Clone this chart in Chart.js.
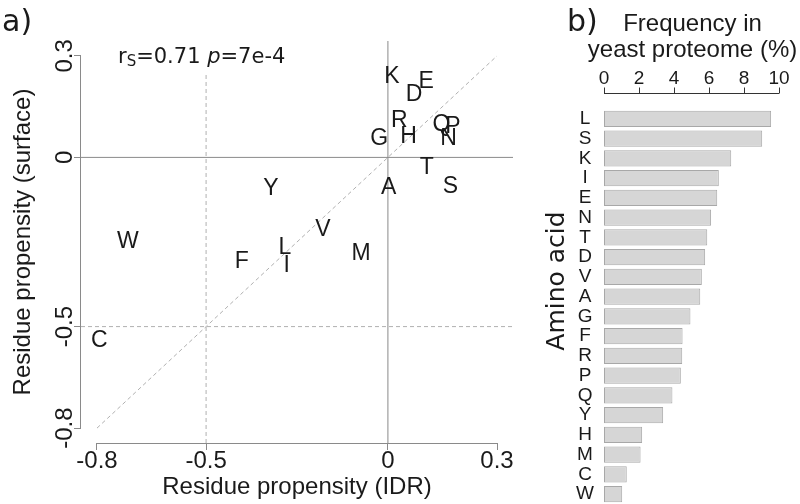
<!DOCTYPE html>
<html>
<head>
<meta charset="utf-8">
<script src="https://cdn.jsdelivr.net/npm/chart.js@4.4.1/dist/chart.umd.min.js"></script>
<style>
  html, body { margin: 0; padding: 0; background: #fff; }
  #wrap { position: relative; width: 800px; height: 504px; }
  #scatterBox { position: absolute; left: 0; top: 0; width: 540px; height: 504px; }
  #barBox { position: absolute; left: 540px; top: 0; width: 260px; height: 504px; }
</style>
</head>
<body>
<div id="wrap">
  <div id="scatterBox"><canvas id="propChart" width="540" height="504"></canvas></div>
  <div id="barBox"><canvas id="freqChart" width="260" height="504"></canvas></div>
</div>
<script>
// panel a) residue propensity, IDR vs surface
const residues = ["K", "E", "D", "R", "H", "G", "Q", "P", "N", "T", "A", "S", "Y", "W", "V", "L", "I", "F", "M", "C"];
const idrProp = [0.011, 0.105, 0.072, 0.031, 0.057, -0.024, 0.147, 0.179, 0.167, 0.107, 0.002, 0.172, -0.322, -0.715, -0.179, -0.283, -0.278, -0.402, -0.074, -0.794];
const surfProp = [0.238, 0.223, 0.186, 0.108, 0.060, 0.055, 0.098, 0.090, 0.055, -0.031, -0.090, -0.086, -0.093, -0.249, -0.214, -0.268, -0.320, -0.307, -0.285, -0.542];
const propTicks = [-0.8, -0.5, 0, 0.3];

// panel b) amino acid frequency in yeast proteome (%)
const aminoAcids = ["L", "S", "K", "I", "E", "N", "T", "D", "V", "A", "G", "F", "R", "P", "Q", "Y", "H", "M", "C", "W"];
const yeastFreq = [9.55, 9.04, 7.27, 6.56, 6.47, 6.12, 5.90, 5.78, 5.59, 5.50, 4.94, 4.49, 4.47, 4.39, 3.91, 3.38, 2.18, 2.09, 1.30, 1.04];
const freqTicks = [0, 2, 4, 6, 8, 10];
const freqTitle = ["Frequency in", "yeast proteome (%)"];

const sansFont = "'Liberation Sans', Arial, sans-serif";
const verdFont = "'DejaVu Sans', Verdana, sans-serif";
const textCol = "#1a1a1a";
const lineGrey = "#8a8a8a";
const dashGrey = "#b0b0b0";

// R style range: 4% extension on each side
const plotMin = -0.844;
const plotMax = 0.344;

Chart.defaults.font.family = sansFont;
Chart.defaults.color = textCol;

const refLine = (pts, color, dash) => ({
    data: pts,
    showLine: true,
    borderColor: color,
    borderWidth: 1,
    borderDash: dash,
    pointRadius: 0,
});

const letterLabels = {
    id: "letterLabels",
    afterDatasetsDraw(chart) {
        const ctx = chart.ctx;
        const meta = chart.getDatasetMeta(0);
        ctx.save();
        ctx.font = "23px " + sansFont;
        ctx.fillStyle = textCol;
        ctx.textAlign = "center";
        ctx.textBaseline = "middle";
        meta.data.forEach((pt, i) => ctx.fillText(residues[i], pt.x, pt.y));
        ctx.restore();
    }
};

const scatterExtras = {
    id: "scatterExtras",
    afterDraw(chart) {
        const { ctx, chartArea, scales } = chart;
        const x = scales.x, y = scales.y;
        ctx.save();
        // axis lines only from first to last tick
        ctx.strokeStyle = lineGrey;
        ctx.lineWidth = 1;
        ctx.beginPath();
        ctx.moveTo(x.getPixelForValue(propTicks[0]), chartArea.bottom + 0.5);
        ctx.lineTo(x.getPixelForValue(propTicks[propTicks.length - 1]), chartArea.bottom + 0.5);
        ctx.moveTo(chartArea.left - 0.5, y.getPixelForValue(propTicks[0]));
        ctx.lineTo(chartArea.left - 0.5, y.getPixelForValue(propTicks[propTicks.length - 1]));
        ctx.stroke();

        // panel tag
        ctx.fillStyle = textCol;
        ctx.textBaseline = "alphabetic";
        ctx.font = "30px " + verdFont;
        ctx.fillText("a)", 2, 31);

        // correlation note
        let cx = chartArea.left + 37;
        const base = 63;
        ctx.font = "21px " + verdFont;
        ctx.fillText("r", cx, base);
        cx += ctx.measureText("r").width;
        ctx.font = "15px " + verdFont;
        ctx.fillText("S", cx, base + 3);
        cx += ctx.measureText("S").width;
        ctx.font = "21px " + verdFont;
        ctx.fillText("=0.71 ", cx, base);
        cx += ctx.measureText("=0.71 ").width;
        ctx.font = "italic 21px " + verdFont;
        ctx.fillText("p", cx, base);
        cx += ctx.measureText("p").width;
        ctx.font = "21px " + verdFont;
        ctx.fillText("=7e-4", cx, base);
        ctx.restore();
    }
};

const propChart = new Chart(document.getElementById("propChart"), {
    type: "scatter",
    data: {
        datasets: [
            {
                data: residues.map((r, i) => ({ x: idrProp[i], y: surfProp[i] })),
                pointRadius: 0,
            },
            refLine([{ x: plotMin, y: 0 }, { x: plotMax, y: 0 }], lineGrey, []),
            refLine([{ x: 0, y: plotMin }, { x: 0, y: plotMax }], lineGrey, []),
            refLine([{ x: plotMin, y: -0.5 }, { x: plotMax, y: -0.5 }], dashGrey, [4, 3]),
            refLine([{ x: -0.5, y: plotMin }, { x: -0.5, y: 0.25 }], dashGrey, [4, 3]),
            refLine([{ x: -0.8, y: -0.8 }, { x: 0.3, y: 0.3 }], dashGrey, [4, 3]),
        ],
    },
    options: {
        responsive: false,
        animation: false,
        events: [],
        layout: { padding: { top: 41, right: 27, left: 0, bottom: 0 } },
        plugins: { legend: { display: false }, tooltip: { enabled: false } },
        scales: {
            x: {
                type: "linear",
                min: plotMin,
                max: plotMax,
                afterBuildTicks: (s) => { s.ticks = propTicks.map((v) => ({ value: v })); },
                afterFit: (s) => { s.height = 61; },
                grid: { drawOnChartArea: false, drawTicks: true, tickLength: 7, color: lineGrey },
                border: { display: false },
                ticks: {
                    font: { size: 24 },
                    color: textCol,
                    padding: -3,
                    maxRotation: 0,
                    autoSkip: false,
                    callback: (v) => String(v),
                },
                title: {
                    display: true,
                    text: "Residue propensity (IDR)",
                    font: { size: 24 },
                    color: textCol,
                    padding: { top: 0, bottom: 2 },
                },
            },
            y: {
                type: "linear",
                min: plotMin,
                max: plotMax,
                afterBuildTicks: (s) => { s.ticks = propTicks.map((v) => ({ value: v })); },
                afterFit: (s) => { s.width = 81; },
                grid: { drawOnChartArea: false, drawTicks: true, tickLength: 7, color: lineGrey },
                border: { display: false },
                ticks: {
                    font: { size: 24 },
                    color: textCol,
                    minRotation: 90,
                    maxRotation: 90,
                    crossAlign: "center",
                    padding: -12,
                    autoSkip: false,
                    callback: (v) => String(v),
                },
                title: {
                    display: true,
                    text: "Residue propensity (surface)",
                    font: { size: 24 },
                    color: textCol,
                    padding: { top: 9, bottom: 0 },
                },
            },
        },
    },
    plugins: [letterLabels, scatterExtras],
});

const barExtras = {
    id: "barExtras",
    afterDraw(chart) {
        const { ctx, chartArea, scales } = chart;
        const x = scales.x;
        const axisY = chartArea.top - 16 + 0.5;
        ctx.save();
        ctx.strokeStyle = "#333";
        ctx.lineWidth = 1;
        ctx.beginPath();
        ctx.moveTo(x.getPixelForValue(freqTicks[0]), axisY);
        ctx.lineTo(x.getPixelForValue(freqTicks[freqTicks.length - 1]), axisY);
        freqTicks.forEach((v) => {
            const px = Math.round(x.getPixelForValue(v)) + 0.5;
            ctx.moveTo(px, axisY);
            ctx.lineTo(px, axisY - 6);
        });
        ctx.stroke();

        ctx.fillStyle = textCol;
        ctx.textBaseline = "alphabetic";

        // axis title, wider than the axis itself
        ctx.font = "24px " + sansFont;
        ctx.textAlign = "center";
        const midX = (chartArea.left + chartArea.right) / 2 + 1;
        ctx.fillText(freqTitle[0], midX, 31);
        ctx.fillText(freqTitle[1], midX, 57);

        ctx.textAlign = "left";
        ctx.font = "30px " + verdFont;
        ctx.fillText("b)", 27, 31);

        ctx.translate(17, 281);
        ctx.rotate(-Math.PI / 2);
        ctx.font = "25px " + verdFont;
        ctx.textAlign = "center";
        ctx.textBaseline = "middle";
        ctx.fillText("Amino acid", 0, 0);
        ctx.restore();
    }
};

const freqChart = new Chart(document.getElementById("freqChart"), {
    type: "bar",
    data: {
        labels: aminoAcids,
        datasets: [
            {
                data: yeastFreq,
                backgroundColor: "#d6d6d6",
                borderColor: "#a8a8a8",
                borderWidth: 1,
                borderSkipped: false,
                barPercentage: 0.83,
                categoryPercentage: 1,
            },
        ],
    },
    options: {
        indexAxis: "y",
        responsive: false,
        animation: false,
        events: [],
        layout: { padding: { top: 0, right: 21, left: 0, bottom: 0 } },
        plugins: { legend: { display: false }, tooltip: { enabled: false } },
        scales: {
            x: {
                position: "top",
                min: 0,
                max: 10,
                afterBuildTicks: (s) => { s.ticks = freqTicks.map((v) => ({ value: v })); },
                afterFit: (s) => {
                    s.height = 109;
                    s.paddingLeft = 0;
                    s.paddingRight = 0;
                },
                grid: { display: false, drawTicks: false },
                border: { display: false },
                ticks: { font: { size: 19 }, color: textCol, padding: 19, maxRotation: 0, autoSkip: false },
            },
            y: {
                afterFit: (s) => {
                    s.width = 64;
                    s.paddingTop = 0;
                    s.paddingBottom = 0;
                },
                grid: { display: false, drawTicks: false },
                border: { display: false },
                ticks: { font: { size: 19 }, color: textCol, crossAlign: "center", padding: 10, autoSkip: false },
            },
        },
    },
    plugins: [barExtras],
});
</script>
</body>
</html>
